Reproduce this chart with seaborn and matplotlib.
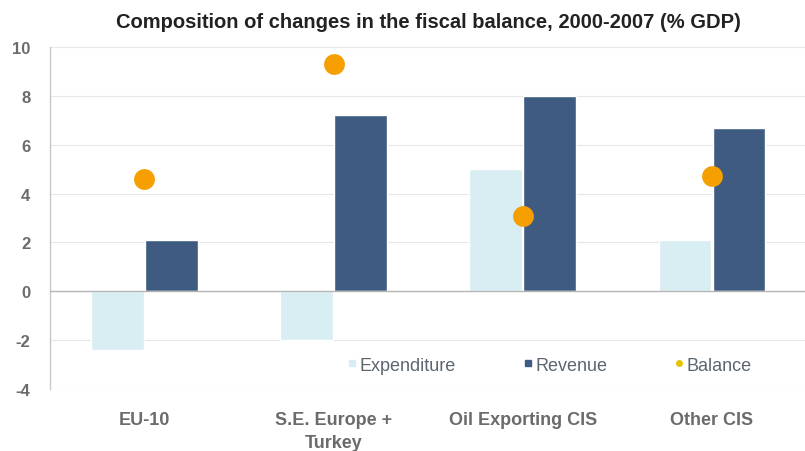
import numpy as np
import pandas as pd
import matplotlib
matplotlib.use("Agg")
import matplotlib.pyplot as plt
from matplotlib.lines import Line2D
import seaborn as sns

# Fiscal balance decomposition, 2000-2007 (% of GDP)
regions = ["EU-10", "S.E. Europe +\nTurkey", "Oil Exporting CIS", "Other CIS"]
expenditure = [-2.4, -2.0, 5.0, 2.1]
revenue = [2.1, 7.2, 8.0, 6.7]
balance = [4.6, 9.3, 3.1, 4.7]
y_ticks = [-4, -2, 0, 2, 4, 6, 8, 10]

sns.set_theme(style="white")
plt.rcParams["font.family"] = ["Liberation Sans", "DejaVu Sans"]

bars = pd.DataFrame({
    "region": regions * 2,
    "component": ["Expenditure"] * 4 + ["Revenue"] * 4,
    "value": expenditure + revenue,
})
points = pd.DataFrame({"region": regions, "value": balance})

c_exp = "#d9eef3"
c_rev = "#3f5b82"
c_bal = "#f5a000"
grey = "#6b6b6b"

fig = plt.figure(figsize=(8.05, 4.52), dpi=100)
ax = fig.add_axes([0.062, 0.137, 0.94, 0.757])

sns.barplot(data=bars, x="region", y="value", hue="component",
            order=regions, hue_order=["Expenditure", "Revenue"],
            palette=[c_exp, c_rev], width=0.57, gap=0.02,
            saturation=1, legend=False, ax=ax, zorder=2)
sns.stripplot(data=points, x="region", y="value", order=regions,
              jitter=False, color=c_bal, size=15, linewidth=0,
              ax=ax, zorder=4)

ax.set_xlim(-0.5, 3.5)
ax.set_ylim(-4, 10)
ax.set_yticks(y_ticks)
ax.set_yticklabels([str(t) for t in y_ticks], color=grey, fontsize=12,
                   fontweight="bold")
ax.set_xticks(range(len(regions)))
ax.set_xticklabels(regions, color=grey, fontsize=13, fontweight="bold",
                   linespacing=1.45)
ax.tick_params(axis="x", length=0, pad=16)
ax.tick_params(axis="y", length=0, pad=14)
ax.set_xlabel("")
ax.set_ylabel("")

for t in y_ticks:
    if t != 0:
        ax.axhline(t, color="#e8e8e8", lw=0.8, zorder=0)
ax.axhline(0, color="#b5b5b5", lw=1.0, zorder=3)

for side in ["top", "right", "bottom"]:
    ax.spines[side].set_visible(False)
ax.spines["left"].set_color("#c8c8c8")
ax.spines["left"].set_linewidth(1.0)

ax.set_title("Composition of changes in the fiscal balance, 2000-2007 (% GDP)",
             fontsize=14.5, fontweight="bold", color="#222222", pad=14)

handles = [
    Line2D([], [], marker="s", ls="", color=c_exp, markersize=4),
    Line2D([], [], marker="s", ls="", color=c_rev, markersize=4),
    Line2D([], [], marker="o", ls="", color="#e6c200", markersize=4),
]
leg = ax.legend(handles, ["Expenditure", "Revenue", "Balance"], ncol=3,
                loc="center", bbox_to_anchor=(0.66, 0.07), frameon=False,
                fontsize=13, handletextpad=0.1, columnspacing=3.7,
                handlelength=0.6)
for txt in leg.get_texts():
    txt.set_color("#5c6670")

fig.savefig("out.png", dpi=100)
